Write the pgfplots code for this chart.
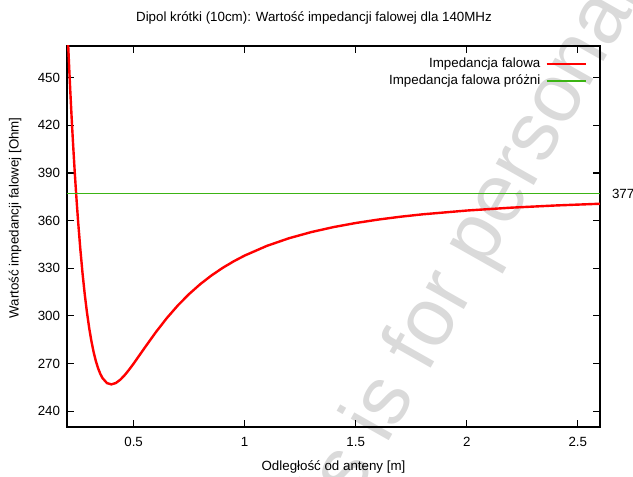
\documentclass[border=0pt]{standalone}
\usepackage{fontspec}
\setmainfont{Liberation Sans}
\usepackage{pgfplots}
\pgfplotsset{compat=1.18}
\definecolor{zgreen}{RGB}{60,180,20}
\definecolor{wmark}{RGB}{218,218,218}
\begin{document}
\begin{tikzpicture}
% 1px = 0.75pt, axis box 533x381 px at (67,46)
\useasboundingbox (-50.25pt,-37.5pt) rectangle (424.5pt,320.25pt);
\node[rotate=60.5, anchor=base west, text=wmark, inner sep=0pt,
      font=\fontsize{62}{74}\selectfont] at (173.3pt,-131.3pt) {This is for personal use only};
\begin{axis}[
    scale only axis,
    width=399.75pt, height=285.75pt,
    xmin=0.2, xmax=2.6,
    ymin=230, ymax=470,
    xtick={0.5,1,1.5,2,2.5},
    ytick={240,270,...,450},
    tick align=inside,
    major tick length=5.25pt,
    axis line style={line width=0.8pt},
    every tick/.style={black, line width=0.8pt},
    font=\fontsize{10}{12}\selectfont,
    /pgf/number format/assume math mode=true,
    xticklabel style={anchor=center, inner sep=0pt, yshift=-10.9pt},
    yticklabel style={anchor=east, inner sep=0pt, xshift=-5pt},
    title={Dipol krótki (10cm): Wartość impedancji falowej dla 140MHz},
    every axis title shift=0pt,
    title style={at={(axis description cs:0.4634,1.0735)}, anchor=center, inner sep=0pt},
    xlabel={Odległość od anteny [m]},
    xlabel style={at={(axis description cs:0.5,-0.105)}, anchor=center, inner sep=0pt},
    ylabel={Wartość impedancji falowej [Ohm]},
    ylabel style={at={(axis description cs:-0.0976,0.549)}, anchor=center, inner sep=0pt},
    clip mode=individual,
    legend style={draw=none, fill=none, at={(1,1)}, anchor=north east,
        xshift=-9.75pt, yshift=-8.3pt, inner sep=0pt, row sep=2.75pt, column sep=3.75pt,
        nodes={inner sep=0pt, text height=7.5pt, text depth=2.5pt}},
    legend cell align=right,
    legend plot pos=right,
    legend image code/.code={\draw[#1] (0pt,0pt) -- (29.25pt,0pt);},
]
\addplot[red, line width=1.8pt] coordinates {
    (0.200,487.98) (0.205,471.46) (0.210,455.87) (0.215,441.17)
    (0.220,427.30) (0.225,414.23) (0.230,401.92) (0.235,390.32)
    (0.240,379.42) (0.245,369.17) (0.250,359.54) (0.260,342.07)
    (0.270,326.78) (0.280,313.50) (0.290,302.05) (0.300,292.28)
    (0.310,284.02) (0.320,277.15) (0.330,271.52) (0.340,266.99)
    (0.350,263.45) (0.360,260.79) (0.380,257.65) (0.400,256.84)
    (0.420,257.71) (0.440,259.79) (0.460,262.70) (0.480,266.16)
    (0.500,269.94) (0.550,279.93) (0.600,289.71) (0.650,298.69)
    (0.700,306.71) (0.750,313.78) (0.800,319.98) (0.850,325.40)
    (0.900,330.15) (0.950,334.32) (1.000,337.99) (1.100,344.09)
    (1.200,348.92) (1.300,352.78) (1.400,355.92) (1.500,358.49)
    (1.600,360.63) (1.700,362.43) (1.800,363.95) (2.000,366.35)
    (2.200,368.16) (2.400,369.54) (2.600,370.63)
};
\addlegendentry{Impedancja falowa}
\addplot[zgreen, line width=1.1pt] coordinates {(0.2,377) (2.6,377)};
\addlegendentry{Impedancja falowa próżni}
\node[anchor=west, inner sep=0pt, xshift=8.8pt] at (axis cs:2.6,377) {377};
\end{axis}
\end{tikzpicture}
\end{document}
